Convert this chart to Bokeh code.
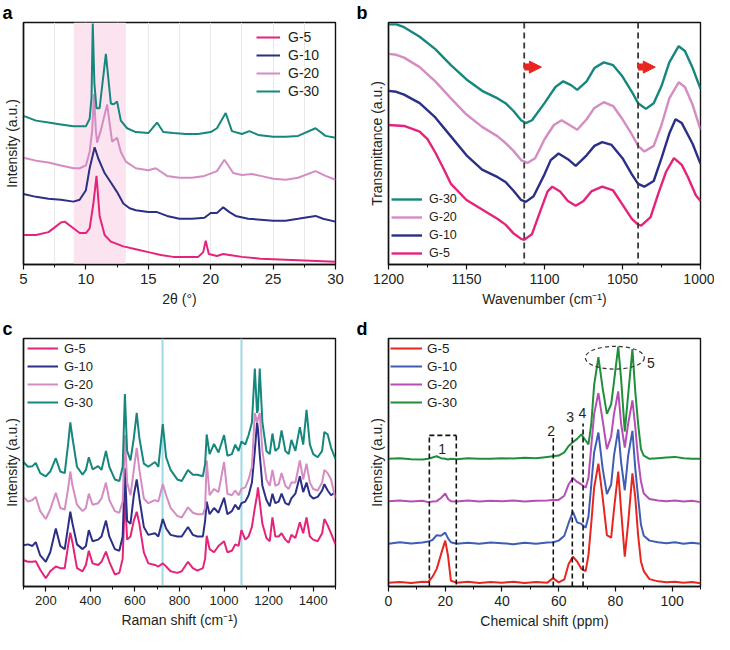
from bokeh.plotting import figure
from bokeh.layouts import column, row
from bokeh.models import (Range1d, FixedTicker, Legend, LegendItem, BoxAnnotation,
                          Span, Arrow, NormalHead)
from bokeh.embed import file_html
from bokeh.resources import INLINE
from bokeh.core.properties import value

FONT = "Liberation Sans"
TXT = "#231f20"

# ---------------- colours ----------------
C_G5 = "#e5237b"
C_G10 = "#2b2f86"
C_G20 = "#d48cc3"
C_G30 = "#16877c"
D_G5 = "#e8251f"
D_G10 = "#3f5db4"
D_G20 = "#b54fb6"
D_G30 = "#1f8f3a"

series_names = ["G-5", "G-10", "G-20", "G-30"]

# ---------------- panel a : XRD ----------------
xrd_ticks = [5, 10, 15, 20, 25, 30]
xrd_minor = [7.5, 12.5, 17.5, 22.5, 27.5]
xrd_grid = [7.5, 10, 12.5, 15, 17.5, 20, 22.5, 25, 27.5]
xrd_band = [9.03, 13.2]

xrd_x_g5 = [5, 6, 7, 7.5, 8, 8.3, 9, 9.5, 10, 10.3, 10.6, 10.85, 11.1, 11.5, 12, 13, 14, 15, 16, 17,
            18, 19, 19.4, 19.6, 19.85, 20.5, 21, 21.5, 22.5, 24, 26, 28, 30]
xrd_y_g5 = [31, 31, 34, 39, 44, 45, 38, 33, 33, 38, 64, 93, 51, 31, 24, 19, 16, 13, 10, 8,
            8, 8, 13, 25, 11, 9, 11, 10, 8, 6, 5, 4, 3]

xrd_x_g10 = [5, 6, 7, 8, 9, 9.5, 10, 10.3, 10.7, 11.0, 11.5, 12, 12.5, 13, 13.5, 14, 15, 15.7, 16.5, 17.5,
             18.5, 19.5, 20, 20.5, 21, 21.5, 22, 23, 24, 25, 26, 27, 28.4, 29, 30]
xrd_y_g10 = [74, 71, 69, 68, 66, 68, 78, 101, 123, 111, 96, 86, 76, 64, 59, 57, 55, 55, 51, 48,
             48, 49, 54, 54, 60, 55, 51, 48, 47, 46, 46, 48, 51, 48, 45]

xrd_x_g20 = [5, 6, 7, 8, 9, 9.5, 10, 10.3, 10.5, 10.65, 10.8, 10.9, 11.2, 11.7, 12.1, 12.5, 12.8, 13.2, 14, 15,
             15.6, 16.5, 17.5, 18.5, 19.5, 20.5, 21.1, 21.8, 22.5, 23.3, 24, 25, 26, 27, 28.4, 29.2, 30]
xrd_y_g20 = [112, 109, 107, 104, 101, 101, 104, 118, 140, 179, 140, 128, 141, 168, 129, 133, 118, 108, 101, 99,
             101, 93, 91, 91, 93, 98, 110, 96, 94, 95, 93, 90, 89, 91, 98, 93, 89]

xrd_x_g30 = [5, 6, 7, 8, 9, 10, 10.3, 10.45, 10.55, 10.68, 10.85, 11.1, 11.6, 12.0, 12.2, 12.5, 12.8, 13.3, 14, 15,
             15.7, 16.2, 17, 18, 19, 20, 20.5, 21.2, 21.7, 22.5, 23.1, 23.8, 25, 26, 27, 28.4, 29.2, 30]
xrd_y_g30 = [156, 151, 149, 147, 145, 145, 153, 175, 253, 190, 164, 164, 221, 169, 168, 171, 151, 143, 139, 138,
             149, 139, 138, 137, 137, 139, 143, 159, 140, 137, 140, 136, 134, 134, 135, 143, 135, 133]

# ---------------- panel b : FTIR ----------------
ir_ticks = [1200, 1150, 1100, 1050, 1000]
ir_minor = [1175, 1125, 1075, 1025]
ir_dash_lines = [1113, 1040]
ir_arrow_start = [1113, 1040]
ir_arrow_end = [1102, 1029]
ir_arrow_y = [208, 208]

ir_x_g30 = [1200, 1195, 1190, 1180, 1170, 1160, 1150, 1140, 1130, 1125, 1120, 1115, 1112, 1108, 1100, 1093, 1088,
            1083, 1079, 1073, 1068, 1062, 1056, 1050, 1044, 1040, 1035, 1030, 1025, 1020, 1014, 1010, 1005, 1000]
ir_y_g30 = [253, 253, 250, 240, 227, 210, 195, 183, 175, 170, 162, 152, 149, 152, 170, 187, 193,
            189, 184, 193, 207, 213, 210, 198, 182, 170, 164, 170, 188, 213, 230, 225, 207, 185]

ir_x_g20 = [1200, 1195, 1190, 1180, 1170, 1160, 1150, 1140, 1130, 1125, 1120, 1115, 1111, 1106, 1100, 1094, 1089,
            1084, 1079, 1073, 1068, 1062, 1056, 1050, 1044, 1040, 1036, 1030, 1025, 1020, 1014, 1010, 1005, 1000]
ir_y_g20 = [222, 221, 218, 208, 193, 175, 158, 145, 135, 128, 120, 110, 107, 112, 132, 147, 152,
            147, 142, 153, 165, 171, 167, 153, 137, 125, 119, 125, 147, 175, 192, 187, 168, 142]

ir_x_g10 = [1200, 1195, 1190, 1180, 1170, 1160, 1150, 1140, 1130, 1125, 1120, 1115, 1112, 1107, 1100, 1096, 1091,
            1085, 1080, 1073, 1068, 1063, 1057, 1050, 1044, 1040, 1036, 1030, 1025, 1020, 1016, 1012, 1005, 1000]
ir_y_g10 = [183, 182, 179, 170, 155, 135, 115, 100, 92, 87, 78, 68, 66, 72, 95, 110, 117,
            111, 104, 115, 125, 129, 126, 112, 95, 85, 82, 88, 112, 138, 153, 149, 127, 106]

ir_x_g5 = [1200, 1190, 1180, 1175, 1170, 1165, 1160, 1150, 1140, 1130, 1125, 1120, 1115, 1113, 1108, 1103, 1098,
           1095, 1090, 1085, 1080, 1075, 1070, 1063, 1056, 1050, 1044, 1040, 1038, 1032, 1027, 1022, 1017, 1012,
           1008, 1003, 1000]
ir_y_g5 = [147, 146, 140, 132, 118, 102, 85, 68, 58, 48, 42, 33, 27, 26, 32, 55, 77,
           82, 77, 67, 62, 67, 77, 82, 78, 63, 48, 42, 41, 50, 75, 98, 112, 105,
           92, 73, 67]

# ---------------- panel c : Raman ----------------
raman_ticks = [200, 400, 600, 800, 1000, 1200, 1400]
raman_minor = [100, 300, 500, 700, 900, 1100, 1300, 1500]
raman_marks = [724, 1078]

raman_x = [100, 120, 140, 155, 175, 200, 220, 245, 265, 285,
           300, 310, 320, 340, 365, 380, 393, 410, 435, 450,
           470, 485, 510, 530, 545, 555, 565, 580, 595, 608,
           620, 640, 660, 690, 705, 725, 740, 760, 790, 810,
           838, 860, 880, 905, 915, 922, 935, 955, 975, 1000,
           1015, 1035, 1050, 1065, 1078, 1095, 1110, 1125, 1138, 1148,
           1152, 1160, 1172, 1190, 1205, 1217, 1230, 1245, 1258, 1275,
           1290, 1302, 1320, 1340, 1355, 1370, 1385, 1400, 1420, 1440,
           1450, 1465, 1480, 1500]

raman_g30 = [393, 378, 380, 390, 358, 348, 363, 405, 363, 358,
             448, 518, 468, 378, 353, 368, 408, 370, 380, 368,
             428, 378, 338, 333, 378, 608, 428, 398, 468, 548,
             468, 388, 378, 393, 378, 513, 408, 368, 338, 333,
             368, 353, 353, 348, 388, 480, 418, 450, 423, 478,
             413, 418, 448, 428, 458, 448, 478, 518, 688, 548,
             558, 688, 518, 428, 418, 483, 428, 438, 493, 428,
             418, 463, 428, 503, 448, 558, 448, 418, 408, 428,
             488, 480, 438, 403]

raman_g20 = [283, 268, 273, 283, 238, 213, 243, 296, 248, 243,
             308, 363, 318, 258, 238, 248, 293, 258, 263, 278,
             328, 273, 238, 233, 268, 478, 328, 288, 368, 438,
             368, 278, 263, 273, 268, 323, 288, 248, 223, 218,
             250, 233, 228, 228, 248, 398, 288, 308, 298, 393,
             293, 288, 303, 288, 308, 313, 338, 378, 548, 518,
             528, 548, 428, 338, 318, 368, 318, 323, 358, 318,
             308, 328, 328, 398, 338, 388, 328, 308, 303, 328,
             368, 358, 338, 278]

raman_g10 = [130, 133, 128, 140, 98, 78, 108, 183, 128, 118,
             188, 236, 198, 133, 118, 128, 178, 143, 148, 158,
             208, 158, 118, 113, 158, 373, 208, 198, 288, 338,
             278, 188, 163, 168, 158, 213, 183, 163, 158, 158,
             188, 163, 158, 158, 208, 268, 228, 248, 233, 280,
             228, 238, 258, 243, 263, 268, 288, 328, 428, 518,
             498, 418, 318, 273, 253, 293, 263, 268, 293, 263,
             258, 278, 293, 348, 298, 328, 288, 278, 283, 303,
             323, 303, 288, 298]

raman_g5 = [83, 78, 78, 80, 53, 26, 48, 63, 58, 58,
            128, 170, 138, 58, 48, 68, 113, 73, 68, 78,
            110, 78, 38, 43, 88, 288, 148, 158, 208, 236,
            198, 108, 73, 68, 63, 73, 63, 48, 43, 48,
            78, 58, 50, 58, 88, 160, 118, 108, 128, 143,
            108, 113, 133, 128, 178, 148, 158, 188, 248, 288,
            313, 268, 198, 153, 143, 218, 158, 158, 168, 148,
            138, 163, 153, 203, 168, 218, 158, 148, 143, 168,
            213, 193, 168, 133]

# ---------------- panel d : NMR ----------------
nmr_ticks = [0, 20, 40, 60, 80, 100]
nmr_minor = [10, 30, 50, 70, 90, 110]

nmr_x = [0, 4, 8, 12, 14, 15.5, 17, 18.5, 20, 21,
         22, 24, 28, 32, 36, 40, 44, 48, 52, 56,
         58, 60, 62, 63.5, 65, 66.5, 68, 69.5, 70.5, 71.5,
         72.5, 74, 75.5, 77, 78.5, 79.5, 81, 82, 83.3, 84.5,
         86, 87, 88, 89, 90, 92, 95, 98, 101, 104,
         107, 110]

nmr_g5 = [12, 14, 11, 15, 14, 30, 55, 100, 143, 95,
          18, 12, 15, 11, 14, 12, 15, 11, 14, 12,
          26, 13, 22, 70, 93, 78, 55, 48, 98, 198,
          308, 383, 278, 160, 152, 240, 358, 238, 93, 198,
          353, 278, 160, 78, 48, 23, 16, 13, 15, 12,
          14, 10]

nmr_g10 = [133, 138, 134, 137, 140, 145, 160, 158, 168, 150,
           138, 133, 136, 133, 137, 135, 132, 136, 133, 137,
           138, 143, 158, 198, 233, 200, 195, 183, 218, 318,
           418, 480, 368, 288, 318, 408, 490, 388, 300, 408,
           485, 368, 278, 193, 158, 143, 138, 135, 138, 133,
           136, 133]

nmr_g20 = [266, 268, 265, 267, 263, 265, 266, 276, 290, 273,
           266, 265, 268, 265, 267, 266, 268, 265, 267, 268,
           270, 270, 283, 318, 338, 326, 318, 308, 338, 438,
           538, 603, 518, 428, 468, 538, 608, 508, 433, 508,
           580, 498, 398, 328, 290, 273, 268, 266, 268, 265,
           267, 263]

nmr_g30 = [398, 400, 397, 396, 398, 402, 406, 400, 398, 396,
           398, 397, 400, 398, 398, 400, 399, 401, 400, 404,
           406, 408, 418, 438, 450, 460, 474, 455, 443, 508,
           628, 715, 618, 538, 568, 638, 748, 648, 483, 598,
           740, 608, 508, 428, 408, 398, 400, 402, 404, 400,
           398, 398]

# annotation marks in panel d
nmr_seg_x0 = [14.4, 14.4, 23.9, 58.1, 64.8, 68.6]
nmr_seg_y0 = [0, 471, 471, 0, 0, 0]
nmr_seg_x1 = [14.4, 23.9, 23.9, 58.1, 64.8, 68.6]
nmr_seg_y1 = [471, 471, 0, 463, 493, 508]
nmr_lbl_x = [18.9, 57.3, 64.0, 68.4, 92.5]
nmr_lbl_y = [428, 486, 528, 540, 698]
nmr_lbl_text = ["1", "2", "3", "4", "5"]
nmr_ell_x = [79.8]
nmr_ell_y = [713]
nmr_ell_w = [20.8]
nmr_ell_h = [71]


def base_fig(width, height, xr, yr, borders, xlabel, ylabel, majors, minors, tick_size, letter):
    bl, br, bt, bb = borders
    p = figure(width=width, height=height, x_range=Range1d(*xr), y_range=Range1d(*yr),
               output_backend="svg", toolbar_location=None, title=letter,
               min_border_left=bl, min_border_right=br, min_border_top=bt, min_border_bottom=bb)
    p.title.align = "left"
    p.title.offset = -bl + 1
    p.title.standoff = 0
    p.title.text_font = FONT
    p.title.text_font_size = "18px"
    p.title.text_font_style = "bold"
    p.title.text_color = "#000000"
    p.background_fill_color = "white"
    p.border_fill_color = "white"
    p.outline_line_color = "#111111"
    p.outline_line_width = 1.4
    p.outline_line_alpha = 1.0
    p.xgrid.visible = False
    p.ygrid.visible = False
    xa = p.xaxis[0]
    xa.ticker = FixedTicker(ticks=majors, minor_ticks=minors)
    xa.axis_label = xlabel
    xa.axis_label_text_font = FONT
    xa.axis_label_text_font_size = "14px"
    xa.axis_label_text_font_style = "normal"
    xa.axis_label_text_color = TXT
    xa.axis_label_standoff = 4
    xa.major_label_text_font = FONT
    xa.major_label_text_font_size = tick_size
    xa.major_label_text_color = TXT
    xa.major_label_standoff = 4
    xa.major_tick_in = 0
    xa.major_tick_out = 5
    xa.minor_tick_in = 0
    xa.minor_tick_out = 3
    xa.axis_line_color = "#111111"
    xa.axis_line_width = 1.4
    xa.major_tick_line_color = "#111111"
    xa.major_tick_line_width = 1.2
    xa.minor_tick_line_color = "#111111"
    xa.minor_tick_line_width = 1.0
    ya = p.yaxis[0]
    ya.ticker = FixedTicker(ticks=[])
    ya.major_label_text_font_size = "0px"
    ya.major_tick_line_color = None
    ya.minor_tick_line_color = None
    ya.axis_line_color = "#111111"
    ya.axis_line_width = 1.4
    ya.axis_label = ylabel
    ya.axis_label_text_font = FONT
    ya.axis_label_text_font_size = "14px"
    ya.axis_label_text_font_style = "normal"
    ya.axis_label_text_color = TXT
    ya.axis_label_standoff = 4
    return p


def add_legend(p, items, vx, vy, font_size, glyph_w, standoff, row_h):
    lg = Legend(items=[LegendItem(label=l, renderers=[r]) for l, r in items],
                location=(vx, vy), orientation="vertical",
                label_text_font=FONT, label_text_font_size=font_size, label_text_color=TXT,
                glyph_width=glyph_w, glyph_height=row_h, label_height=row_h,
                label_standoff=standoff, spacing=0, padding=0, margin=0,
                border_line_color=None, background_fill_alpha=0.0)
    p.add_layout(lg)


# ---------------- panel a ----------------
pa = base_fig(355, 316, (5, 30), (0, 254), (22, 20, 20, 52), "2θ (°)", "Intensity (a.u.)",
              xrd_ticks, xrd_minor, "15px", "a")
pa.xgrid.visible = True
pa.xgrid.ticker = FixedTicker(ticks=xrd_grid)
pa.xgrid.grid_line_color = "#e9e9e9"
pa.xgrid.grid_line_width = 1
pa.add_layout(BoxAnnotation(left=xrd_band[0], right=xrd_band[1], fill_color="#fbe4ef",
                            fill_alpha=1.0, line_color=None, level="underlay"))
ra5 = pa.line(xrd_x_g5, xrd_y_g5, line_color=C_G5, line_width=2)
ra10 = pa.line(xrd_x_g10, xrd_y_g10, line_color=C_G10, line_width=2)
ra20 = pa.line(xrd_x_g20, xrd_y_g20, line_color=C_G20, line_width=2)
ra30 = pa.line(xrd_x_g30, xrd_y_g30, line_color=C_G30, line_width=2)
add_legend(pa, list(zip(series_names, [ra5, ra10, ra20, ra30])), 233, 164, "14px", 24, 8, 18)

# ---------------- panel b ----------------
pb = base_fig(359, 316, (1200, 1000), (0, 255), (33, 14, 20, 52), "Wavenumber (cm⁻¹)",
              "Transmittance (a.u.)", ir_ticks, ir_minor, "14px", "b")
for loc in ir_dash_lines:
    pb.add_layout(Span(location=loc, dimension="height", line_color="#3a3a3a",
                       line_width=1.8, line_dash="6 4"))
rb30 = pb.line(ir_x_g30, ir_y_g30, line_color=C_G30, line_width=2.4)
rb20 = pb.line(ir_x_g20, ir_y_g20, line_color=C_G20, line_width=2.4)
rb10 = pb.line(ir_x_g10, ir_y_g10, line_color=C_G10, line_width=2.4)
rb5 = pb.line(ir_x_g5, ir_y_g5, line_color=C_G5, line_width=2.4)
for xs, xe, yy in zip(ir_arrow_start, ir_arrow_end, ir_arrow_y):
    pb.add_layout(Arrow(end=NormalHead(size=12, fill_color="#e8251f", line_color="#e8251f"),
                        x_start=xs, y_start=yy, x_end=xe, y_end=yy,
                        line_color="#e8251f", line_width=7))
add_legend(pb, list(zip(["G-30", "G-20", "G-10", "G-5"], [rb30, rb20, rb10, rb5])),
           3, 2, "12.5px", 31, 7, 18)

# ---------------- panel c ----------------
pc = base_fig(355, 316, (100, 1500), (0, 783), (22, 20, 20, 46), "Raman shift (cm⁻¹)",
              "Intensity (a.u.)", raman_ticks, raman_minor, "13px", "c")
for loc in raman_marks:
    pc.add_layout(Span(location=loc, dimension="height", line_color="#9fd8e6",
                       line_width=2, level="underlay"))
rc5 = pc.line(raman_x, raman_g5, line_color=C_G5, line_width=2)
rc10 = pc.line(raman_x, raman_g10, line_color=C_G10, line_width=2)
rc20 = pc.line(raman_x, raman_g20, line_color=C_G20, line_width=2)
rc30 = pc.line(raman_x, raman_g30, line_color=C_G30, line_width=2)
add_legend(pc, list(zip(series_names, [rc5, rc10, rc20, rc30])), 4, 175, "13px", 31, 6, 18)

# ---------------- panel d ----------------
pd_ = base_fig(359, 316, (0, 110), (0, 773), (33, 14, 20, 46), "Chemical shift (ppm)",
               "Intensity (a.u.)", nmr_ticks, nmr_minor, "14px", "d")
rd5 = pd_.line(nmr_x, nmr_g5, line_color=D_G5, line_width=2)
rd10 = pd_.line(nmr_x, nmr_g10, line_color=D_G10, line_width=2)
rd20 = pd_.line(nmr_x, nmr_g20, line_color=D_G20, line_width=2)
rd30 = pd_.line(nmr_x, nmr_g30, line_color=D_G30, line_width=2)
pd_.segment(x0=nmr_seg_x0, y0=nmr_seg_y0, x1=nmr_seg_x1, y1=nmr_seg_y1,
            line_color="#111111", line_width=1.6, line_dash="5 3")
pd_.ellipse(x=nmr_ell_x, y=nmr_ell_y, width=nmr_ell_w, height=nmr_ell_h,
            fill_color=None, line_color="#333333", line_width=1.2, line_dash="4 3")
pd_.text(x=nmr_lbl_x, y=nmr_lbl_y, text=nmr_lbl_text, text_font=value(FONT),
         text_font_size=value("14px"), text_color=TXT, text_align="center",
         text_baseline="middle")
add_legend(pd_, list(zip(series_names, [rd5, rd10, rd20, rd30])), 2, 175, "13.5px", 32, 5, 18)

layout = column(row(pa, pb), row(pc, pd_))
open("out.html", "w").write(file_html(layout, INLINE))
